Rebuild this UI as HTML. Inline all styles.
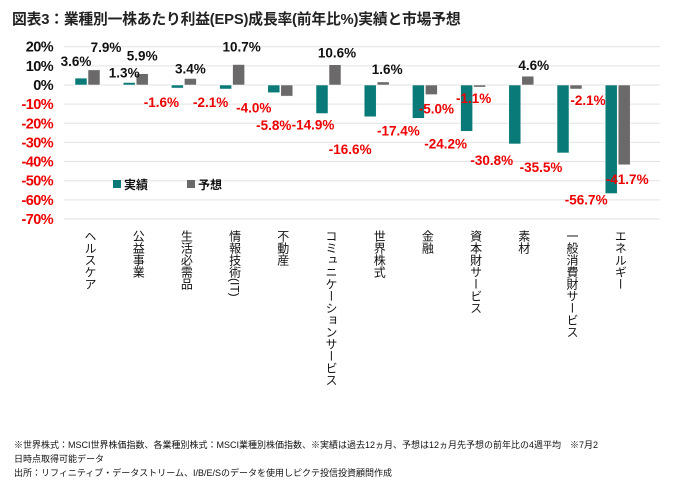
<!DOCTYPE html>
<html><head><meta charset="utf-8"><style>
body{margin:0;background:#fff;width:684px;height:485px;overflow:hidden;font-family:"Liberation Sans","Noto Sans CJK JP",sans-serif}
.title{position:absolute;left:12px;top:8px;font-size:14.8px;font-weight:bold;color:#222;letter-spacing:-0.2px}
.note{position:absolute;left:14px;font-size:9px;color:#111;white-space:nowrap}
</style></head><body>
<div class="title">図表3：業種別一株あたり利益(EPS)成長率(前年比%)実績と市場予想</div>
<svg id="chart" width="684" height="420" style="position:absolute;left:0;top:0"></svg>
<div class="note" style="top:438px">※世界株式：MSCI世界株価指数、各業種別株式：MSCI業種別株価指数、※実績は過去12ヵ月、予想は12ヵ月先予想の前年比の4週平均　※7月2</div>
<div class="note" style="top:452px">日時点取得可能データ</div>
<div class="note" style="top:466px">出所：リフィニティブ・データストリーム、I/B/E/Sのデータを使用しピクテ投信投資顧問作成</div>
<script>
const categories=["ヘルスケア","公益事業","生活必需品","情報技術(IT)","不動産","コミュニケーションサービス","世界株式","金融","資本財サービス","素材","一般消費財サービス","エネルギー"];
const actual=[3.6,1.3,-1.6,-2.1,-4.0,-14.9,-16.6,-17.4,-24.2,-30.8,-35.5,-56.7];
const forecast=[7.9,5.9,3.4,10.7,-5.8,10.6,1.6,-5.0,-1.1,4.6,-2.1,-41.7];
const ticks=[20,10,0,-10,-20,-30,-40,-50,-60,-70];
// label placement offsets (styling only)
const offA=[[-11,-17],[-11,-10],[-22,14],[-21,13],[-26,15],[-15,11],[-26,32],[-26,12],[-27,12],[-29,16],[-28,14],[-31,6]];
const offF=[[19,-23],[7,-18],[7,-10],[10,-18],[-6,29],[9,-12],[11,-13],[12,14],[1,11],[13,-11],[19,11],[10,14]];
const NS="http://www.w3.org/2000/svg";
const svg=document.getElementById('chart');
const y=v=>85-v*1.914;
const xc=i=>87+i*48.2;
function el(t,a,txt){const e=document.createElementNS(NS,t);for(const k in a)e.setAttribute(k,a[k]);if(txt!==undefined)e.textContent=txt;svg.appendChild(e);return e;}
ticks.forEach(t=>{
 const g=el('line',{x1:64,x2:660,y1:y(t),y2:y(t),stroke:'#e2e2e2','stroke-width':1});
 
 
 const l=el('text',{x:53,y:y(t)+5,'text-anchor':'end','font-size':14.5,'font-weight':'bold',fill:t<0?'#e00':'#111','letter-spacing':'-0.6'},t+'%');
 
 
});
function lbl(v,x,yy){const t=el('text',{x:x,y:yy+5,'text-anchor':'middle','font-size':13.5,'font-weight':'bold',fill:v<0?'#e00':'#111'},v.toFixed(1)+'%');
 
 }
categories.forEach((c,i)=>{
 const a=actual[i],f=forecast[i],x=xc(i);
 const ra=el('rect',{x:x-12,y:Math.min(y(a),y(0)),width:12,height:Math.abs(y(a)-y(0)),fill:'#0a7a78',stroke:'#fff','stroke-width':0.5});
 
 
 const rf=el('rect',{x:x+1,y:Math.min(y(f),y(0)),width:12,height:Math.abs(y(f)-y(0)),fill:'#6b6969',stroke:'#fff','stroke-width':0.5});
 
 
 lbl(a,x+offA[i][0],y(a)+offA[i][1]);
 lbl(f,x+offF[i][0],y(f)+offF[i][1]);
 const ct=el('text',{x:x+3,y:230,'font-size':12,fill:'#111',style:'writing-mode:vertical-rl'},c);
 
 
});
const lg1=el('rect',{x:113,y:180,width:8,height:8,fill:'#0a7a78'});


const lt1=el('text',{x:124,y:189,'font-size':12,'font-weight':'bold',fill:'#111'},'実績');


const lg2=el('rect',{x:187,y:180,width:8,height:8,fill:'#6b6969'});


const lt2=el('text',{x:198,y:189,'font-size':12,'font-weight':'bold',fill:'#111'},'予想');


</script>
</body></html>
